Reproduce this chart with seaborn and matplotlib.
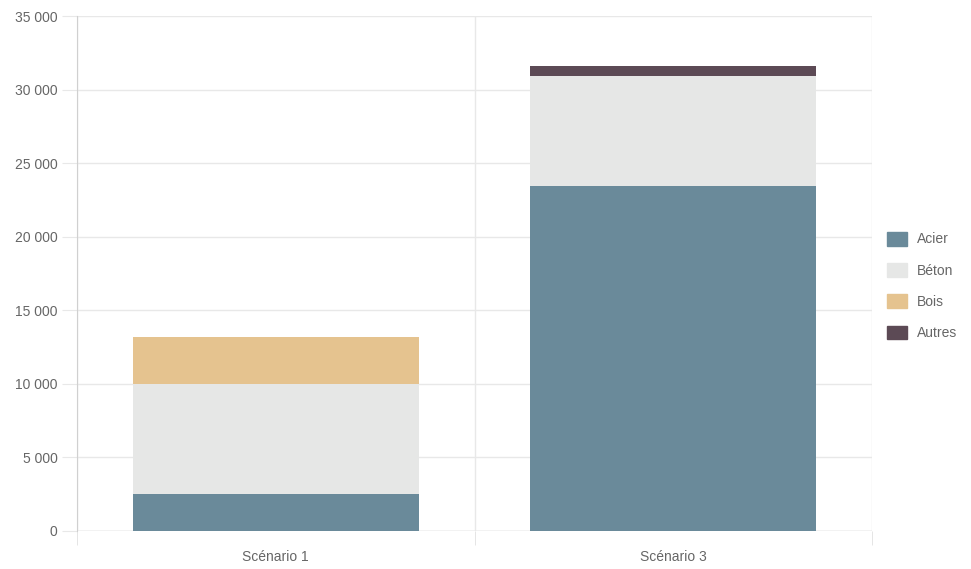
import matplotlib
matplotlib.use("Agg")
import matplotlib.pyplot as plt
from matplotlib.patches import Rectangle
from matplotlib.ticker import FuncFormatter
import numpy as np
import pandas as pd
import seaborn as sns

scenarios = ["Scénario 1", "Scénario 3"]
materials = ["Acier", "Béton", "Bois", "Autres"]
acier = [2500, 23450]
beton = [7500, 7480]
bois = [3190, 0]
autres = [0, 700]
colors = ["#6a8a9a", "#e6e7e6", "#e5c38f", "#5c4a55"]

df = pd.DataFrame({"Scénario": scenarios, "Acier": acier, "Béton": beton,
                   "Bois": bois, "Autres": autres})

sns.set_style("white")
plt.rcParams["font.family"] = ["Liberation Sans", "DejaVu Sans"]

fig = plt.figure(figsize=(9.71, 5.69), dpi=100)
ax = fig.add_axes([77 / 971, 1 - 531 / 569, (872 - 77) / 971, (531 - 16) / 569])

bottom = np.zeros(len(scenarios))
for mat, col in zip(materials, colors):
    sns.barplot(data=df, x="Scénario", y=mat, color=col, width=0.72,
                bottom=bottom, ax=ax, saturation=1, linewidth=0)
    bottom += df[mat].values

ax.set_xlim(-0.5, 1.5)
ax.set_ylim(0, 35000)
ax.set_yticks(np.arange(0, 35001, 5000))
ax.yaxis.set_major_formatter(FuncFormatter(lambda v, p: f"{int(v):,}".replace(",", " ")))
ax.set_xticks([-0.5, 0.5, 1.5], minor=True)
ax.set_xlabel("")
ax.set_ylabel("")

ax.grid(axis="y", color="#e8e8e8", linewidth=1)
ax.grid(axis="x", which="minor", color="#e8e8e8", linewidth=1)
ax.set_axisbelow(True)
for s in ["top", "right", "bottom"]:
    ax.spines[s].set_visible(False)
ax.spines["left"].set_color("#d0d0d0")
ax.axhline(0, color="#d0d0d0", linewidth=1, zorder=0.5)

ax.tick_params(axis="y", length=11, color="#e8e8e8", labelcolor="#666666",
               labelsize=10, pad=3, left=True)
ax.tick_params(axis="x", which="major", length=0, labelcolor="#666666",
               labelsize=10, pad=14)
ax.tick_params(axis="x", which="minor", length=10, color="#e0e0e0", bottom=True)

handles = [Rectangle((0, 0), 1, 1, color=c) for c in colors]
fig.legend(handles, materials, loc="center left", bbox_to_anchor=(874 / 971, 1 - 286 / 569),
           frameon=False, fontsize=10, labelcolor="#666666", handlelength=1.5,
           handleheight=1.15, handletextpad=0.7, labelspacing=1.2)

fig.savefig("out.png", dpi=100)
